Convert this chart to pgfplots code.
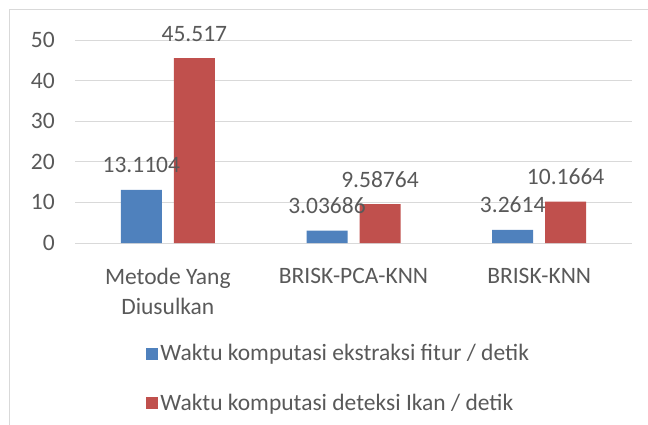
\documentclass[border=0pt]{standalone}
\usepackage{pgfplots}
\pgfplotsset{compat=1.18}
\usepackage{fontspec}
\setmainfont{Carlito}
\definecolor{txt}{HTML}{595959}
\definecolor{gridc}{HTML}{D9D9D9}
\definecolor{blu}{HTML}{4F81BD}
\definecolor{rd}{HTML}{C0504D}
\newcommand{\lf}{\fontsize{23.5bp}{30bp}\selectfont}
\begin{document}
\begin{tikzpicture}
\useasboundingbox (-75bp,-182bp) rectangle (573bp,243bp);
\draw[gridc, line width=1bp] (-65bp,-182bp) -- (-65bp,233bp) -- (573bp,233bp);
\begin{axis}[
  at={(0,0)}, anchor=south west,
  scale only axis, width=557bp, height=203bp,
  xmin=-0.5, xmax=2.5, ymin=0, ymax=50,
  ytick={0,10,...,50},
  xtick={0,1,2},
  xticklabels={{Metode Yang\\Diusulkan},BRISK-PCA-KNN,BRISK-KNN},
  ymajorgrids, major grid style={gridc, line width=1bp},
  axis line style={draw=none},
  tick style={draw=none},
  /pgf/number format/assume math mode=true,
  xticklabel style={align=center, text=txt, font=\lf, anchor=north, inner sep=0pt, yshift=-21bp},
  yticklabel style={text=txt, font=\lf, anchor=east, inner sep=0pt, xshift=-20bp},
  ybar=12bp, bar width=41bp,
  point meta=explicit symbolic,
  nodes near coords={\pgfplotspointmeta},
  every node near coord/.append style={font=\lf, text=txt, anchor=base, inner sep=0pt, yshift=17bp},
  legend style={draw=none, fill=none, font=\lf, text=txt, anchor=north west,
    at={(0.128,-0.49)}, row sep=28bp, inner sep=0pt,
    nodes={inner sep=2bp}},
  legend cell align=left,
  legend image code/.code={\fill[#1] (0bp,-6bp) rectangle (12bp,6bp);},
]
\addplot[fill=blu, draw=none] coordinates {(0,13.1104) [13.1104] (1,3.03686) [3.03686] (2,3.2614) [3.2614]};
\addplot[fill=rd, draw=none] coordinates {(0,45.517) [45.517] (1,9.58764) [9.58764] (2,10.1664) [10.1664]};
\legend{Waktu komputasi ekstraksi fitur / detik, Waktu komputasi deteksi Ikan / detik}
\end{axis}
\end{tikzpicture}
\end{document}
